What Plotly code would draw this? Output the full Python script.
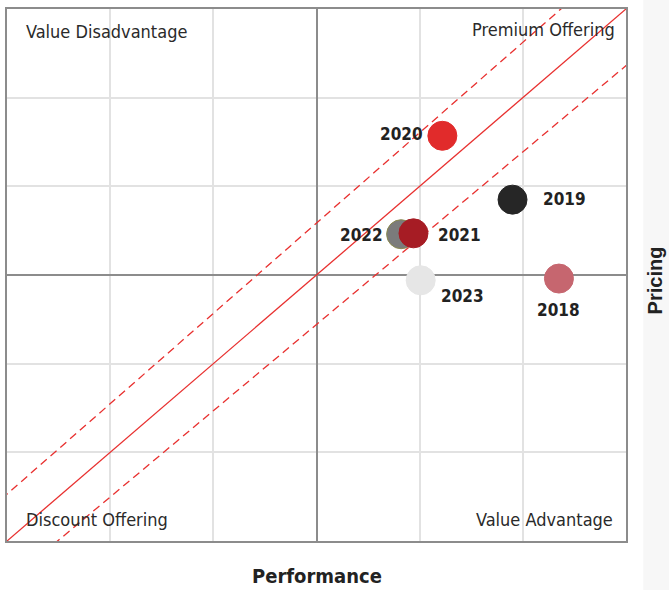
import plotly.graph_objects as go

years = ["2018", "2019", "2020", "2021", "2022", "2023"]
performance = [2.35, 1.90, 1.22, 0.94, 0.82, 1.01]
pricing = [-0.04, 0.85, 1.57, 0.47, 0.46, -0.06]
colors = ["#c6666f", "#262626", "#e12b2b", "#a61c24", "#7b7b7b", "#e6e6e6"]

# parity band: (intercept, slope)
parity_line = (0.0, 1.0)
band_upper = (0.586, 1.019)
band_lower = (-0.558, 0.973)
axis_min, axis_max = -3, 3

quad_labels = ["Value Disadvantage", "Premium Offering", "Discount Offering", "Value Advantage"]

COND = "Liberation Sans Narrow, DejaVu Sans Condensed, Arial Narrow, sans-serif"

fig = go.Figure()

line_x = [axis_min - 1, axis_max + 1]
for (a, b), dash in [(parity_line, "solid"), (band_upper, "8px,5px"), (band_lower, "8px,5px")]:
    fig.add_trace(go.Scatter(x=line_x, y=[a + b * v for v in line_x], mode="lines",
                             line=dict(color="#e8302f", width=1.3, dash=dash),
                             hoverinfo="skip", showlegend=False))

# draw order: 2022 below 2021
order = [0, 1, 2, 4, 3, 5]
for i in order:
    fig.add_trace(go.Scatter(
        x=[performance[i]], y=[pricing[i]], mode="markers",
        marker=dict(size=29, color=colors[i],
                    line=dict(color="#8a8a50" if years[i] == "2022" else colors[i], width=1)),
        showlegend=False, hoverinfo="skip"))

offsets = {
    "2018": (0, 31),
    "2019": (52, -1),
    "2020": (-41, -2),
    "2021": (46, 2),
    "2022": (-40, 1),
    "2023": (42, 16),
}
for i, yr in enumerate(years):
    dx, dy = offsets[yr]
    fig.add_annotation(x=performance[i], y=pricing[i], text="<b>" + yr + "</b>", showarrow=False,
                       xshift=dx, yshift=-dy, font=dict(family=COND, size=17, color="#222222"))

qpos = [(0.028, 0.958, "left"), (0.986, 0.961, "right"), (0.028, 0.04, "left"), (0.983, 0.04, "right")]
for t, (px, py, al) in zip(quad_labels, qpos):
    fig.add_annotation(x=px, y=py, xref="paper", yref="paper", text=t, showarrow=False,
                       xanchor=al, yanchor="middle",
                       font=dict(family=COND, size=18, color="#2a2a2a"))

fig.add_annotation(x=0.5, y=-0.066, xref="paper", yref="paper", text="<b>Performance</b>",
                   showarrow=False, xanchor="center", yanchor="middle",
                   font=dict(family=COND, size=20, color="#222222"))

fig.add_shape(type="rect", xref="paper", yref="paper", x0=1.028, x1=1.08, y0=-0.2, y1=1.02,
              fillcolor="#f7f7f7", line=dict(width=0), layer="below")

fig.add_annotation(x=1.047, y=0.49, xref="paper", yref="paper", text="<b>Pricing</b>",
                   showarrow=False, textangle=-90, xanchor="center", yanchor="middle",
                   font=dict(family="Liberation Sans, Arial, sans-serif", size=20, color="#222222"))

axis_common = dict(range=[axis_min, axis_max], dtick=1, showticklabels=False, ticks="",
                   showgrid=True, gridcolor="#e2e2e2", gridwidth=2,
                   zeroline=True, zerolinecolor="#8c8c8c", zerolinewidth=1.5,
                   showline=True, linecolor="#8c8c8c", linewidth=2, mirror=True, fixedrange=True)

fig.update_layout(
    width=669, height=590,
    margin=dict(l=7, r=43, t=7, b=49),
    paper_bgcolor="white", plot_bgcolor="white",
    xaxis=axis_common, yaxis=axis_common,
    showlegend=False,
)

fig.write_html("out.html", config={"displayModeBar": False},
               post_script="document.body.style.margin='0';document.body.style.overflow='hidden';")
